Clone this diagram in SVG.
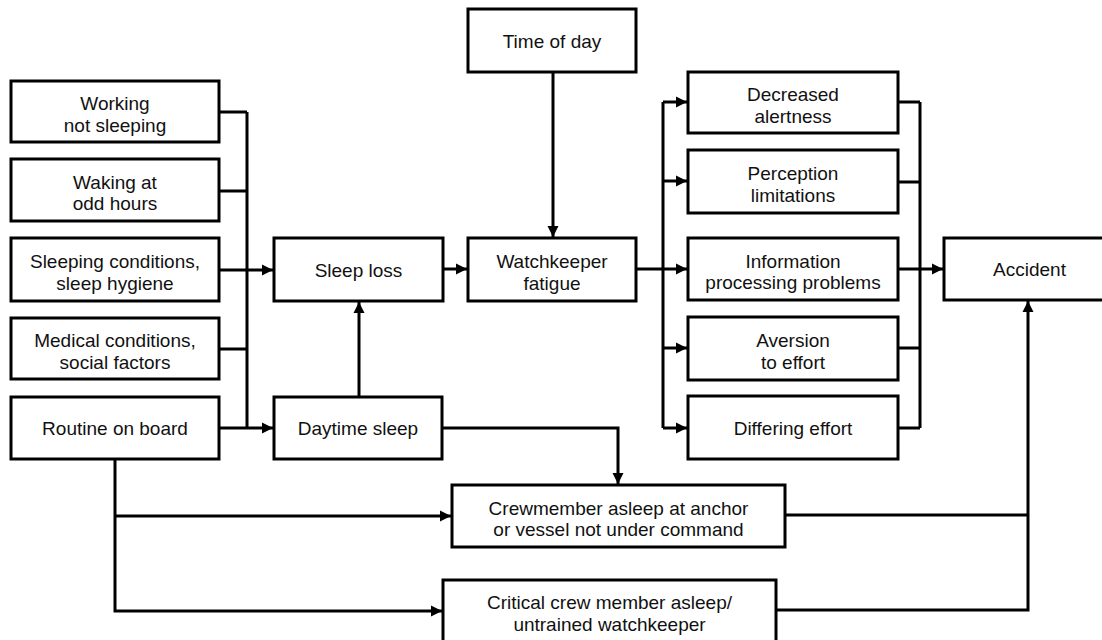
<svg xmlns="http://www.w3.org/2000/svg" width="1102" height="640" viewBox="0 0 1102 640">
<style>
.box{fill:#fff;stroke:#000;stroke-width:3}
.t{font-family:"Liberation Sans",Arial,Helvetica,sans-serif;font-size:19px;fill:#111;text-anchor:middle}
.c{fill:none;stroke:#000;stroke-width:3}
.a{marker-end:url(#arr)}
</style>
<defs>
<marker id="arr" markerUnits="userSpaceOnUse" markerWidth="12" markerHeight="12" refX="11" refY="6" orient="auto">
<path d="M0,0.5 L11,6 L0,11.5 z" fill="#000"/>
</marker>
</defs>
<rect width="1102" height="640" fill="#fff"/>

<g id="connectors">
<path class="c" d="M219,112 H247 M219,191 H247 M219,349 H247 M247,112 V428"/>
<path class="c a" d="M219,270 H273"/>
<path class="c a" d="M219,428 H273"/>
<path class="c a" d="M359,397 V302"/>
<path class="c a" d="M443,269 H467"/>
<path class="c a" d="M553,72 V237"/>
<path class="c" d="M663,102 V428"/>
<path class="c a" d="M636,269 H687"/>
<path class="c a" d="M663,102 H687"/>
<path class="c a" d="M663,181 H687"/>
<path class="c a" d="M663,348 H687"/>
<path class="c a" d="M663,428 H687"/>
<path class="c" d="M898,102 H920 M898,182 H920 M898,348 H920 M898,428 H920 M920,102 V428"/>
<path class="c a" d="M898,269 H943"/>
<path class="c a" d="M442,428 H618 V484"/>
<path class="c a" d="M115,459 V611 H442"/>
<path class="c a" d="M115,516 H451"/>
<path class="c" d="M785,515 H1028"/>
<path class="c a" d="M776,610 H1028 V301"/>
</g>

<g id="working"><rect class="box" x="11" y="81" width="208" height="61"/><text class="t" x="115" y="110">Working</text><text class="t" x="115" y="131.5">not sleeping</text></g>
<g id="waking"><rect class="box" x="11" y="159" width="208" height="62"/><text class="t" x="115" y="188.5">Waking at</text><text class="t" x="115" y="210">odd hours</text></g>
<g id="sleepcond"><rect class="box" x="11" y="238" width="208" height="63"/><text class="t" x="115" y="268">Sleeping conditions,</text><text class="t" x="115" y="289.5">sleep hygiene</text></g>
<g id="medical"><rect class="box" x="11" y="318" width="208" height="61"/><text class="t" x="115" y="347">Medical conditions,</text><text class="t" x="115" y="368.5">social factors</text></g>
<g id="routine"><rect class="box" x="11" y="397" width="208" height="62"/><text class="t" x="115" y="435">Routine on board</text></g>

<g id="sleeploss"><rect class="box" x="274" y="238" width="169" height="63"/><text class="t" x="358.5" y="277">Sleep loss</text></g>
<g id="daytime"><rect class="box" x="274" y="397" width="168" height="62"/><text class="t" x="358" y="435">Daytime sleep</text></g>
<g id="timeofday"><rect class="box" x="468" y="9" width="168" height="63"/><text class="t" x="552" y="48">Time of day</text></g>
<g id="watchkeeper"><rect class="box" x="468" y="238" width="168" height="63"/><text class="t" x="552" y="268">Watchkeeper</text><text class="t" x="552" y="289.5">fatigue</text></g>

<g id="decreased"><rect class="box" x="688" y="72" width="210" height="61"/><text class="t" x="793" y="101">Decreased</text><text class="t" x="793" y="122.5">alertness</text></g>
<g id="perception"><rect class="box" x="688" y="150" width="210" height="63"/><text class="t" x="793" y="180">Perception</text><text class="t" x="793" y="201.5">limitations</text></g>
<g id="information"><rect class="box" x="688" y="238" width="210" height="62"/><text class="t" x="793" y="267.5">Information</text><text class="t" x="793" y="289">processing problems</text></g>
<g id="aversion"><rect class="box" x="688" y="317" width="210" height="63"/><text class="t" x="793" y="347">Aversion</text><text class="t" x="793" y="368.5">to effort</text></g>
<g id="differing"><rect class="box" x="688" y="396" width="210" height="63"/><text class="t" x="793" y="434.5">Differing effort</text></g>

<g id="accident"><rect class="box" x="944" y="238" width="172" height="62"/><text class="t" x="1029.5" y="276">Accident</text></g>

<g id="crewmember"><rect class="box" x="452" y="485" width="333" height="62"/><text class="t" x="618.5" y="514.5">Crewmember asleep at anchor</text><text class="t" x="618.5" y="536">or vessel not under command</text></g>
<g id="critical"><rect class="box" x="443" y="580" width="333" height="64"/><text class="t" x="609.5" y="609">Critical crew member asleep/</text><text class="t" x="609.5" y="631">untrained watchkeeper</text></g>
</svg>
